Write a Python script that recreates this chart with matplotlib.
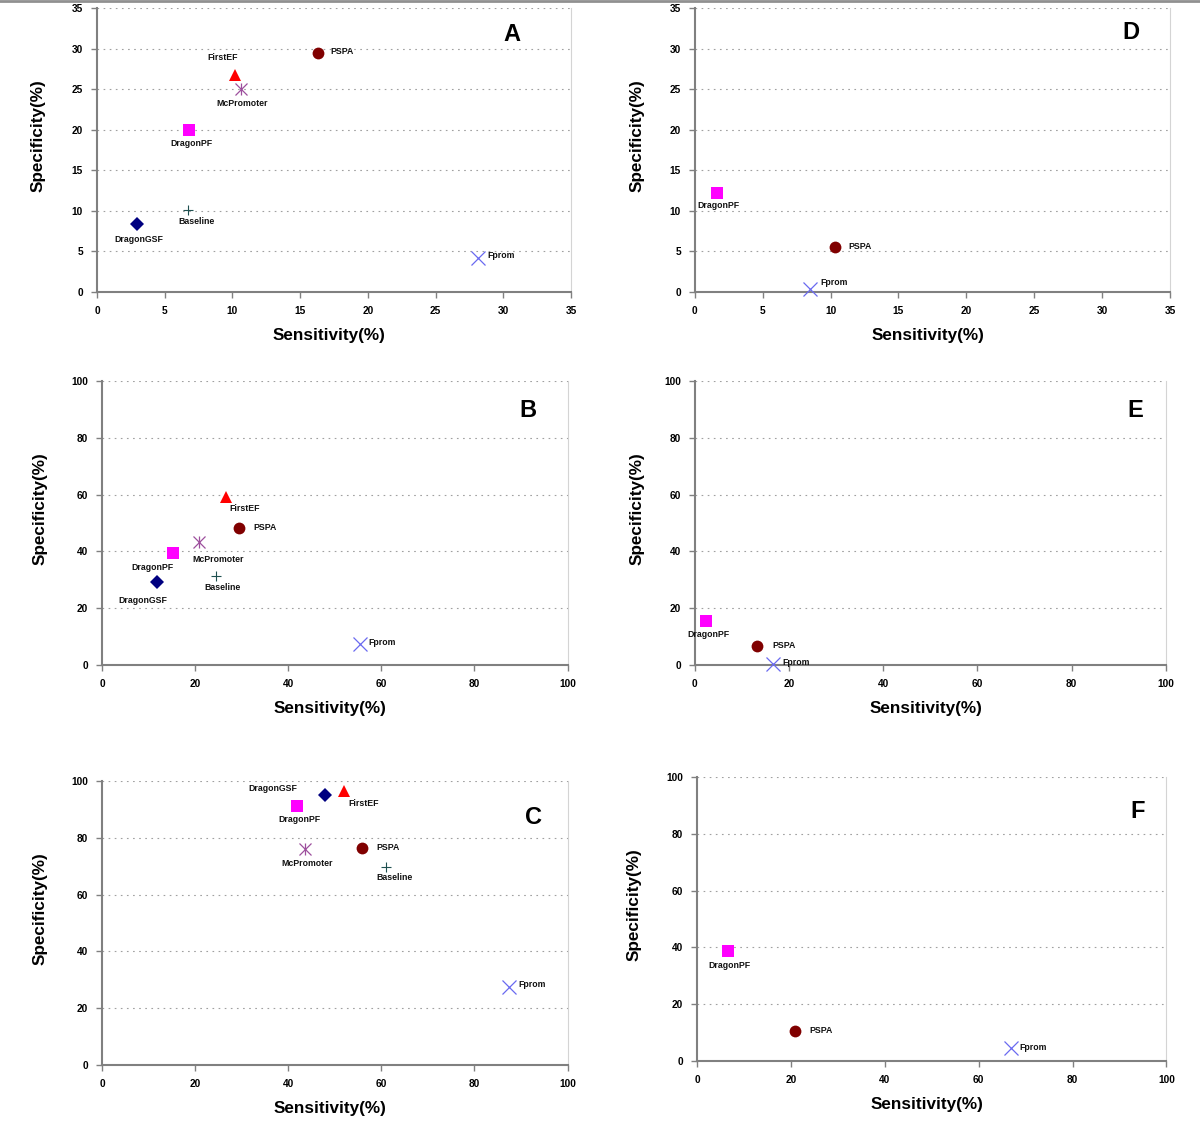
import matplotlib
matplotlib.use("Agg")
import matplotlib.pyplot as plt
from matplotlib.lines import Line2D

plt.rcParams['font.family'] = ['Liberation Sans', 'DejaVu Sans']

# --- data (sensitivity %, specificity %) ---
methods_A = ["PSPA", "FirstEF", "McPromoter", "DragonPF", "Baseline", "DragonGSF", "Fprom"]
sens_A = [16.3, 10.2, 10.6, 6.8, 6.7, 2.95, 28.1]
spec_A = [29.4, 26.7, 25.0, 20.0, 10.1, 8.4, 4.2]

methods_B = ["FirstEF", "PSPA", "McPromoter", "DragonPF", "Baseline", "DragonGSF", "Fprom"]
sens_B = [26.6, 29.5, 20.9, 15.3, 24.4, 11.8, 55.5]
spec_B = [59.3, 48.1, 43.3, 39.6, 31.2, 29.2, 7.5]

methods_C = ["DragonGSF", "FirstEF", "DragonPF", "McPromoter", "PSPA", "Baseline", "Fprom"]
sens_C = [47.9, 52.0, 41.8, 43.7, 55.8, 60.9, 87.5]
spec_C = [95.2, 96.4, 91.3, 75.9, 76.3, 69.8, 27.6]

methods_D = ["DragonPF", "PSPA", "Fprom"]
sens_D = [1.6, 10.3, 8.5]
spec_D = [12.2, 5.5, 0.4]

methods_E = ["DragonPF", "PSPA", "Fprom"]
sens_E = [2.4, 13.2, 16.6]
spec_E = [15.5, 6.6, 0.5]

methods_F = ["DragonPF", "PSPA", "Fprom"]
sens_F = [6.5, 20.9, 66.8]
spec_F = [38.6, 10.7, 4.7]

# --- marker styles per method ---
styles = {
    "DragonGSF": dict(marker="D", color="#000080", ms=7, mew=0),
    "DragonPF": dict(marker="s", color="#FF00FF", ms=8, mew=0),
    "FirstEF": dict(marker="^", color="#FF0000", ms=9, mew=0),
    "McPromoter": dict(marker="x", color="#9D4F9D", ms=9, mew=0.9),
    "Baseline": dict(marker="+", color="#1F5050", ms=7, mew=0.8),
    "PSPA": dict(marker="o", color="#800000", ms=8.5, mew=0),
    "Fprom": dict(marker="x", color="#6A6AF0", ms=9.5, mew=0.9),
}

# label offsets in pixels (dx, dy, ha)
offs = {
    "A": {"PSPA": (13, 2, "left"), "FirstEF": (-12, 18, "center"), "McPromoter": (2, -14, "center"),
          "DragonPF": (2, -14, "center"), "Baseline": (9, -11, "center"),
          "DragonGSF": (2, -16, "center"), "Fprom": (10, 2, "left")},
    "B": {"FirstEF": (19, -12, "center"), "PSPA": (14, 1, "left"), "McPromoter": (19, -17, "center"),
          "DragonPF": (-21, -15, "center"), "Baseline": (7, -11, "center"),
          "DragonGSF": (-14, -18, "center"), "Fprom": (8, 1, "left")},
    "C": {"DragonGSF": (-52, 6, "center"), "FirstEF": (4, -12, "left"), "DragonPF": (3, -14, "center"),
          "McPromoter": (2, -14, "center"), "PSPA": (15, 1, "left"),
          "Baseline": (9, -11, "center"), "Fprom": (9, 2, "left")},
    "D": {"DragonPF": (2, -13, "center"), "PSPA": (14, 1, "left"), "Fprom": (10, 6, "left")},
    "E": {"DragonPF": (2, -13, "center"), "PSPA": (15, 1, "left"), "Fprom": (9, 1, "left")},
    "F": {"DragonPF": (2, -14, "center"), "PSPA": (14, 0, "left"), "Fprom": (9, 0, "left")},
}

panels = [
    # letter, methods, x, y, ymax, step, axes rect, ylabel x, letter pos
    ("A", methods_A, sens_A, spec_A, 35, 5, [0.0808, 0.740, 0.395, 0.2529], -0.108, (0.876, 0.905)),
    ("D", methods_D, sens_D, spec_D, 35, 5, [0.579, 0.740, 0.396, 0.2529], -0.105, (0.918, 0.912)),
    ("B", methods_B, sens_B, spec_B, 100, 20, [0.085, 0.4078, 0.388, 0.2529], -0.118, (0.914, 0.898)),
    ("E", methods_E, sens_E, spec_E, 100, 20, [0.579, 0.4078, 0.3925, 0.2529], -0.106, (0.936, 0.898)),
    ("C", methods_C, sens_C, spec_C, 100, 20, [0.085, 0.0516, 0.388, 0.2529], -0.118, (0.927, 0.870)),
    ("F", methods_F, sens_F, spec_F, 100, 20, [0.581, 0.0552, 0.391, 0.2529], -0.119, (0.938, 0.877)),
]

fig = plt.figure(figsize=(12, 11.23), dpi=100)
fig.add_artist(Line2D([0, 1], [0.999, 0.999], transform=fig.transFigure, color="#909090", lw=2))

for letter, meths, xs, ys, top, step, rect, ylx, lpos in panels:
    ax = fig.add_axes(rect)
    ax.set_xlim(0, top)
    ax.set_ylim(0, top)
    ticks = list(range(0, top + 1, step))
    ax.set_xticks(ticks)
    ax.set_yticks(ticks)
    ax.tick_params(labelsize=7.3, length=4, width=1, color="#808080", pad=6)
    for lab in ax.get_xticklabels() + ax.get_yticklabels():
        lab.set_fontweight("bold")
    ax.spines["top"].set_visible(False)
    ax.spines["right"].set_color("#d4d4d4")
    ax.spines["right"].set_linewidth(0.8)
    for s in ("left", "bottom"):
        ax.spines[s].set_color("#808080")
        ax.spines[s].set_linewidth(1.5)
    for t in ticks[1:]:
        ax.axhline(t, color="#a0a0a0", lw=0.8, ls=(0, (1.5, 4)), zorder=0)

    for m, x, y in zip(meths, xs, ys):
        st = styles[m]
        ax.plot(x, y, ls="none", marker=st["marker"], color=st["color"], ms=st["ms"],
                mew=st["mew"], clip_on=False, zorder=3)
        if m == "McPromoter":
            ax.plot(x, y, ls="none", marker="|", color=st["color"], ms=st["ms"], mew=st["mew"],
                    clip_on=False, zorder=3)
        dx, dy, ha = offs[letter][m]
        ax.annotate(m, (x, y), xytext=(dx, dy), textcoords="offset pixels", ha=ha, va="center",
                    fontsize=6.3, fontweight="bold", color="#111111")

    ax.set_xlabel("Sensitivity(%)", fontsize=12.3, fontweight="bold")
    ax.set_ylabel("Specificity(%)", fontsize=12.3, fontweight="bold")
    ax.xaxis.set_label_coords(0.49, -0.127)
    ax.yaxis.set_label_coords(ylx, 0.55)
    ax.text(lpos[0], lpos[1], letter, transform=ax.transAxes, fontsize=17, fontweight="bold",
            ha="center", va="center")

fig.savefig("out.png", dpi=100)
